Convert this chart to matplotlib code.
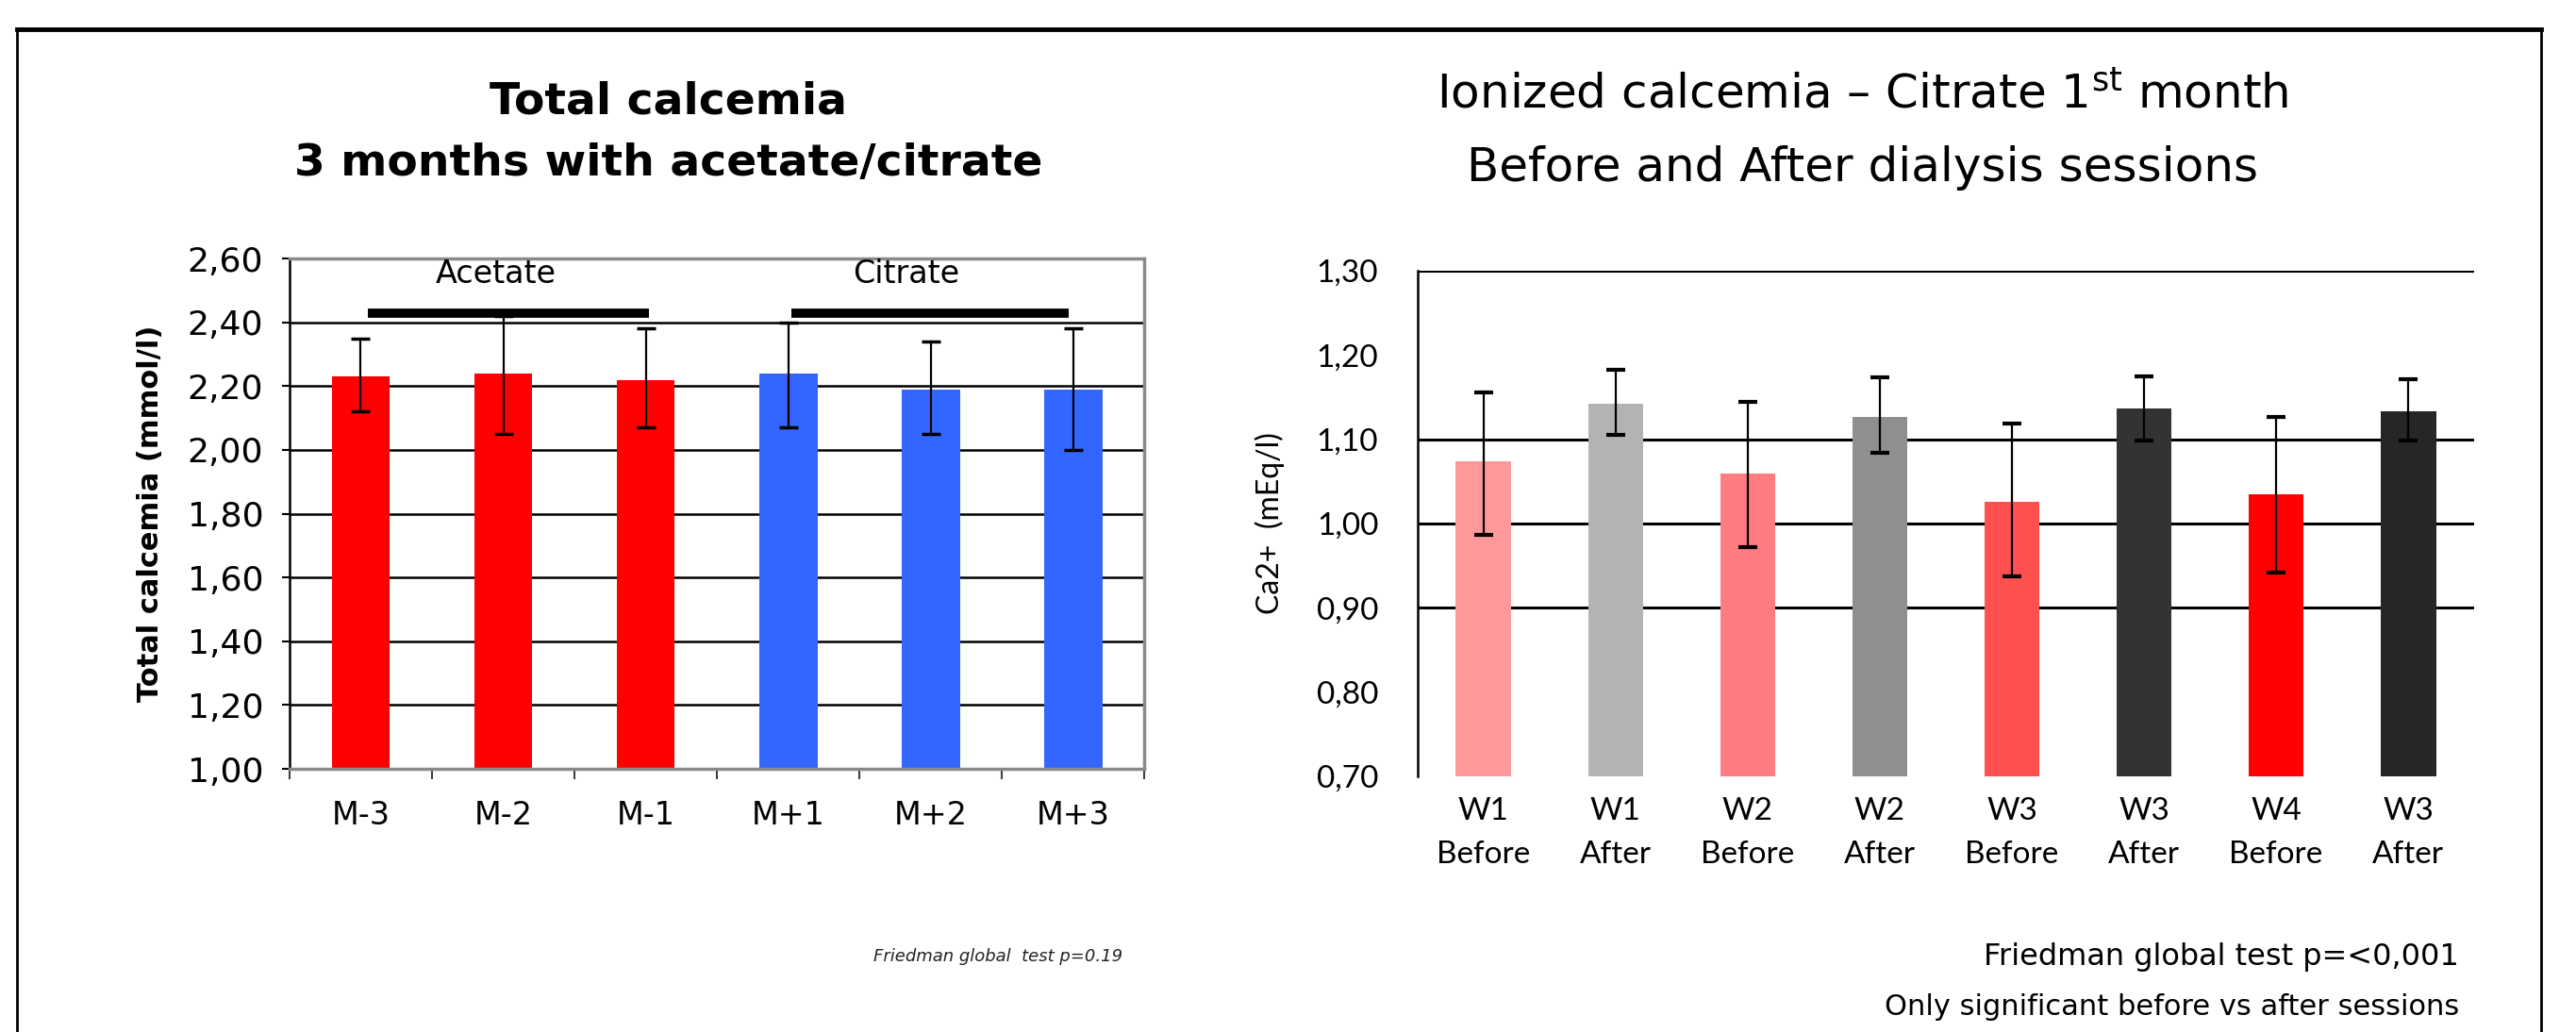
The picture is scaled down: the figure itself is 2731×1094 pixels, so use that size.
import matplotlib
matplotlib.use("Agg")
import matplotlib.pyplot as plt
import numpy as np
from matplotlib.lines import Line2D

# --- left panel: total calcemia, 3 months acetate / citrate
months = ["M-3", "M-2", "M-1", "M+1", "M+2", "M+3"]
total_ca = [2.23, 2.24, 2.22, 2.24, 2.19, 2.19]
total_lo = [2.12, 2.05, 2.07, 2.07, 2.05, 2.00]
total_hi = [2.35, 2.42, 2.38, 2.40, 2.34, 2.38]
month_colors = ["#FF0000", "#FF0000", "#FF0000", "#3366FF", "#3366FF", "#3366FF"]
groups = ["Acetate", "Citrate"]
group_text_x = [0.95, 3.83]
group_start = [0.05, 3.02]
group_end = [2.02, 4.97]
group_level = 2.43
total_ticks = [1.00, 1.20, 1.40, 1.60, 1.80, 2.00, 2.20, 2.40, 2.60]

# --- right panel: ionized calcemia, citrate 1st month
sessions = ["W1\nBefore", "W1\nAfter", "W2\nBefore", "W2\nAfter",
            "W3\nBefore", "W3\nAfter", "W4\nBefore", "W3\nAfter"]
ionized = [1.074, 1.142, 1.059, 1.127, 1.026, 1.136, 1.035, 1.133]
ion_lo = [0.987, 1.105, 0.972, 1.084, 0.937, 1.098, 0.942, 1.098]
ion_hi = [1.156, 1.182, 1.144, 1.174, 1.119, 1.175, 1.127, 1.171]
session_colors = ["#FF9999", "#B3B3B3", "#FF7C80", "#8F8F8F",
                  "#FF5050", "#333333", "#FF0000", "#262626"]
ion_ticks = [0.70, 0.80, 0.90, 1.00, 1.10, 1.20, 1.30]
ion_grid = [0.90, 1.00, 1.10, 1.30]

thin = ["Lato", "DejaVu Sans"]


def comma(v):
    return f"{v:.2f}".replace(".", ",")


fig = plt.figure(figsize=(27.31, 10.94), dpi=100)

# outer frame of the slide box
fig.add_artist(Line2D([0.0066, 0.9865], [0.9717, 0.9717], transform=fig.transFigure,
                      color="black", linewidth=3.5))
fig.add_artist(Line2D([0.0066, 0.0066], [0.0, 0.9717], transform=fig.transFigure,
                      color="black", linewidth=2))
fig.add_artist(Line2D([0.9865, 0.9865], [0.0, 0.9717], transform=fig.transFigure,
                      color="black", linewidth=2))

# ---------------- left chart
ax1 = fig.add_axes([0.1124, 0.255, 0.3318, 0.4945])
x1 = np.arange(len(months))
err1 = [np.array(total_ca) - np.array(total_lo), np.array(total_hi) - np.array(total_ca)]
ax1.bar(x1, total_ca, width=0.41, color=month_colors, zorder=2)
ax1.errorbar(x1, total_ca, yerr=err1, fmt="none", ecolor="black",
             elinewidth=1.6, capsize=7, capthick=2.5, zorder=3)
for s, e in zip(group_start, group_end):
    ax1.plot([s, e], [group_level, group_level], color="black", linewidth=7,
             solid_capstyle="butt", zorder=4)
for gx, name in zip(group_text_x, groups):
    ax1.text(gx, 2.55, name, ha="center", va="center", fontsize=24)

ax1.set_xlim(-0.5, 5.5)
ax1.set_ylim(1.0, 2.6)
ax1.set_yticks(total_ticks, [comma(v) for v in total_ticks])
ax1.set_xticks(x1, months)
ax1.set_xticks(np.arange(-0.5, 6.0, 1.0), minor=True)
ax1.yaxis.grid(True, color="black", linewidth=1.8)
ax1.set_axisbelow(True)
ax1.tick_params(axis="y", length=6, width=1.5, pad=14, labelsize=26)
ax1.tick_params(axis="x", which="major", length=0, pad=24, labelsize=24)
ax1.tick_params(axis="x", which="minor", length=8, width=1.5, color="#404040")
ax1.spines["left"].set_color("black")
ax1.spines["left"].set_linewidth(1.8)
for side in ["top", "right", "bottom"]:
    ax1.spines[side].set_color("#8A8A8A")
    ax1.spines[side].set_linewidth(2.5)
ax1.set_ylabel("Total calcemia (mmol/l)", fontsize=22, fontweight="bold", labelpad=18)

fig.text(0.2596, 0.901, "Total calcemia", ha="center", va="center",
         fontsize=34, fontweight="bold")
fig.text(0.2596, 0.841, "3 months with acetate/citrate", ha="center", va="center",
         fontsize=34, fontweight="bold")
fig.text(0.4357, 0.073, "Friedman global  test p=0.19", ha="right", va="center",
         fontsize=13, style="italic", color="#222222")

# ---------------- right chart
ax2 = fig.add_axes([0.5503, 0.2477, 0.4102, 0.49])
x2 = np.arange(len(sessions))
err2 = [np.array(ionized) - np.array(ion_lo), np.array(ion_hi) - np.array(ionized)]
ax2.bar(x2, ionized, width=0.42, color=session_colors, zorder=2)
ax2.errorbar(x2, ionized, yerr=err2, fmt="none", ecolor="black",
             elinewidth=1.6, capsize=7, capthick=3, zorder=3)
for g in ion_grid:
    ax2.axhline(g, color="black", linewidth=2.2, zorder=1)

ax2.set_xlim(-0.5, 7.5)
ax2.set_ylim(0.70, 1.30)
ax2.set_yticks(ion_ticks, [comma(v) for v in ion_ticks])
ax2.set_xticks(x2, sessions)
ax2.tick_params(axis="y", length=0, pad=30, labelsize=24)
ax2.tick_params(axis="x", length=0, pad=16, labelsize=24)
for lab in ax2.get_yticklabels() + ax2.get_xticklabels():
    lab.set_family(thin)
for lab in ax2.get_xticklabels():
    lab.set_linespacing(1.65)
for side in ["top", "right", "bottom"]:
    ax2.spines[side].set_visible(False)
ax2.spines["left"].set_linewidth(1.8)
ax2.set_ylabel("Ca2+  (mEq/l)", fontsize=23, family=thin, labelpad=24)

fig.text(0.7232, 0.9077, "Ionized calcemia \u2013 Citrate 1$^{\\mathregular{st}}$ month",
         ha="center", va="center", fontsize=36)
fig.text(0.7232, 0.8373, "Before and After dialysis sessions",
         ha="center", va="center", fontsize=36)
fig.text(0.9547, 0.073, "Friedman global test p=<0,001", ha="right", va="center",
         fontsize=23)
fig.text(0.9547, 0.0238, "Only significant before vs after sessions", ha="right",
         va="center", fontsize=22)

fig.savefig("out.png", dpi=100)
